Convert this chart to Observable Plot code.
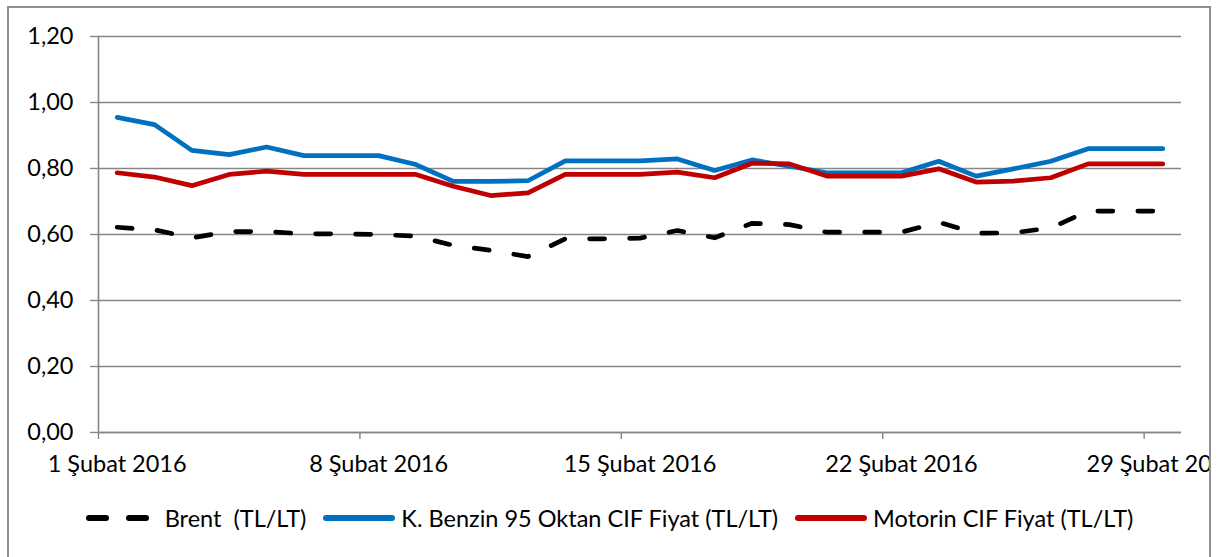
<!DOCTYPE html>
<html>
<head>
<meta charset="utf-8">
<script src="https://cdn.jsdelivr.net/npm/d3@7"></script>
<script src="https://cdn.jsdelivr.net/npm/@observablehq/plot@0.6"></script>
<style>
  html, body { margin: 0; padding: 0; background: #fff; }
  body { width: 1218px; height: 557px; position: relative; overflow: hidden; font-family: Lato, "DejaVu Sans", sans-serif; }
  #frame { position: absolute; left: 7px; top: 6px; width: 1200px; height: 560px; border: 2px solid #8f8f8f; overflow: hidden; background: #fff; }
  #chart { position: absolute; left: 0; top: 0; }
  #legend { position: absolute; left: 0; top: 496px; width: 1200px; display: flex; justify-content: center; align-items: center; font-size: 23.5px; color: #000; white-space: pre; }
  #legend .item { display: flex; align-items: center; }
  #legend svg { display: block; }
</style>
</head>
<body>
<div id="frame">
  <div id="chart"></div>
  <div id="legend"></div>
</div>
<script>
// ---- data ----
const days = d3.range(1, 30); // 1..29 Şubat 2016
const brent   = [0.622,0.614,0.590,0.609,0.609,0.602,0.602,0.600,0.595,0.567,0.552,0.533,0.587,0.587,0.589,0.612,0.590,0.634,0.630,0.607,0.607,0.607,0.637,0.604,0.605,0.620,0.671,0.671,0.671];
const benzin  = [0.955,0.933,0.855,0.842,0.865,0.839,0.839,0.839,0.812,0.761,0.761,0.763,0.823,0.823,0.823,0.829,0.794,0.826,0.807,0.787,0.787,0.787,0.822,0.777,0.799,0.822,0.860,0.860,0.860];
const motorin = [0.787,0.774,0.748,0.782,0.792,0.782,0.782,0.782,0.782,0.746,0.718,0.726,0.782,0.782,0.782,0.789,0.772,0.816,0.814,0.777,0.777,0.777,0.799,0.759,0.762,0.772,0.814,0.814,0.814];
const seriesNames = ["Brent  (TL/LT)", "K. Benzin 95 Oktan CIF Fiyat (TL/LT)", "Motorin CIF Fiyat (TL/LT)"];
const seriesColors = ["#000000", "#0070C0", "#C00000"];
const xTickDays = [1, 8, 15, 22, 29];
const monthLabel = "Şubat 2016";
const yTicks = [0, 0.2, 0.4, 0.6, 0.8, 1.0, 1.2];

// ---- table ----
const allValues = [brent, benzin, motorin];
const rows = allValues.map((vals, i) => days.map((d, j) => ({day: d + 0.5, value: vals[j], series: seriesNames[i]})));

const gray = "#868686";
const chart = Plot.plot({
  width: 1200,
  height: 490,
  marginLeft: 89,
  marginRight: 28,
  marginTop: 28,
  marginBottom: 66,
  style: {fontFamily: "Lato, sans-serif", fontSize: "23.5px", color: "#000", background: "transparent", overflow: "visible"},
  x: {domain: [1, 30], label: null},
  y: {domain: [0, 1.2], label: null},
  marks: [
    Plot.gridY(yTicks, {stroke: gray, strokeOpacity: 1, strokeWidth: 1.4}),
    Plot.ruleX([1], {stroke: gray, strokeWidth: 1.6}),
    Plot.axisY({ticks: yTicks, tickSize: 8, tickPadding: 17, stroke: gray, strokeWidth: 1.4, strokeOpacity: 1, tickFormat: d => d.toFixed(2).replace(".", ","), label: null}),
    Plot.axisX({ticks: xTickDays, tickSize: 7, stroke: gray, strokeWidth: 1.4, strokeOpacity: 1, tickFormat: () => "", label: null}),
    Plot.axisX({ticks: xTickDays.map(d => d + 0.5), tickSize: 0, tickPadding: 23, tickFormat: d => `${Math.floor(d)} ${monthLabel}`, label: null}),
    Plot.ruleY([0], {stroke: gray, strokeWidth: 1.6}),
    Plot.line(rows[0], {x: "day", y: "value", stroke: seriesColors[0], strokeWidth: 4.7, strokeDasharray: "15,25", strokeLinecap: "round", strokeLinejoin: "round"}),
    Plot.line(rows[1], {x: "day", y: "value", stroke: seriesColors[1], strokeWidth: 4.7, strokeLinecap: "round", strokeLinejoin: "round"}),
    Plot.line(rows[2], {x: "day", y: "value", stroke: seriesColors[2], strokeWidth: 4.7, strokeLinecap: "round", strokeLinejoin: "round"})
  ]
});
document.getElementById("chart").appendChild(chart);

// ---- legend ----
const legend = document.getElementById("legend");
seriesNames.forEach((name, i) => {
  const item = document.createElement("div");
  item.className = "item";
  item.style.marginRight = i < 2 ? "16px" : "0";
  const w = i === 0 ? 66 : 74;
  const dash = i === 0 ? 'stroke-dasharray="17,23"' : "";
  item.innerHTML = `<svg width="${w}" height="10"><line x1="4" y1="5" x2="${w - 4}" y2="5" stroke="${seriesColors[i]}" stroke-width="6" stroke-linecap="round" ${dash}/></svg><span style="margin-left:${i === 0 ? 14 : 5}px">${name}</span>`;
  legend.appendChild(item);
});
</script>
</body>
</html>
